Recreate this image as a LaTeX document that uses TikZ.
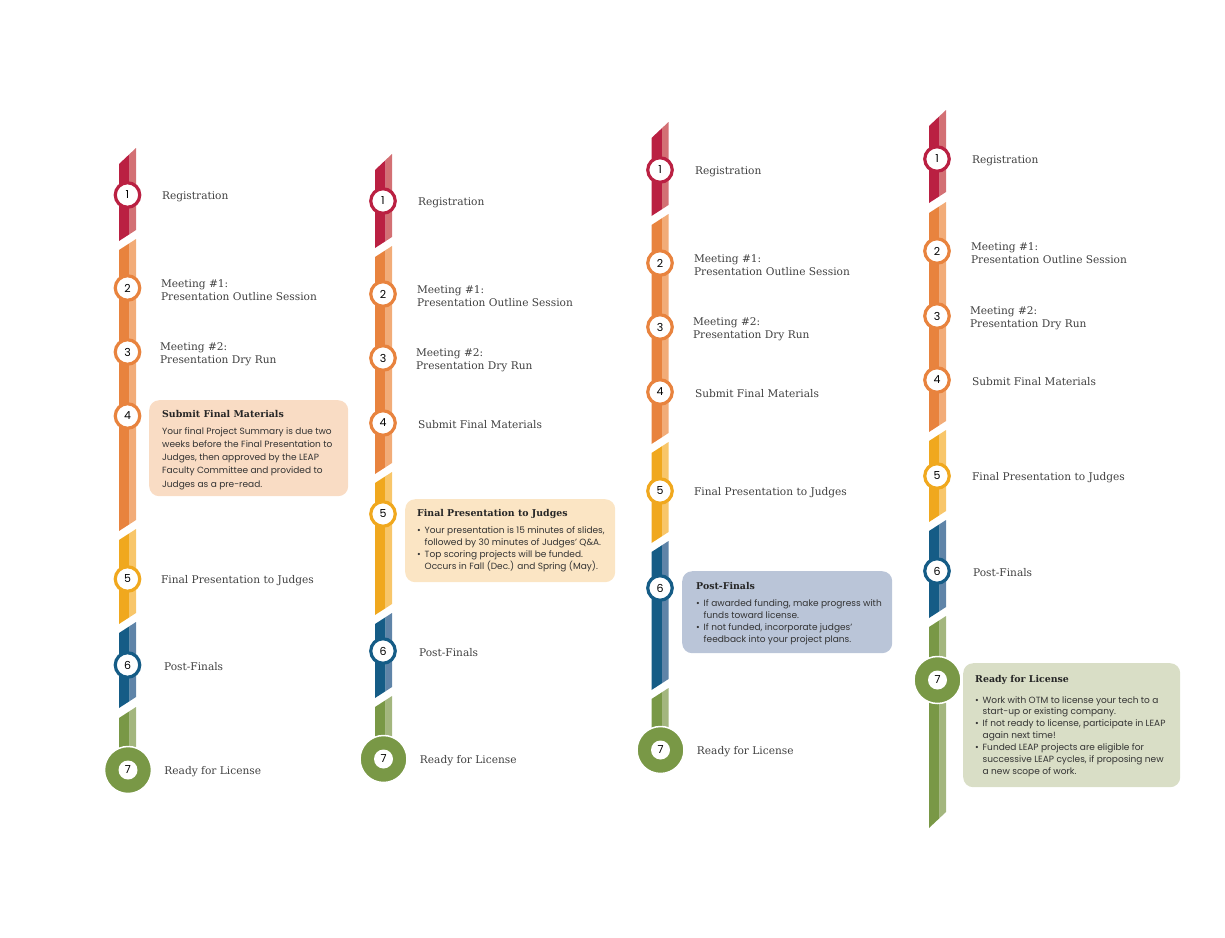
\documentclass[tikz,border=0pt]{standalone}
\usepackage{fontspec}
\usepackage{xcolor}
\usepackage{tikz}
\usetikzlibrary{positioning}
\newfontfamily\slab{DejaVu Serif}
\newfontfamily\bodyfont{Poppins}
\definecolor{stepred}{RGB}{186,32,66}
\definecolor{stepredlt}{RGB}{211,112,116}
\definecolor{steporange}{RGB}{232,131,62}
\definecolor{steporangelt}{RGB}{242,172,120}
\definecolor{stepyellow}{RGB}{240,168,30}
\definecolor{stepyellowlt}{RGB}{248,198,106}
\definecolor{stepblue}{RGB}{21,92,134}
\definecolor{stepbluelt}{RGB}{95,132,168}
\definecolor{stepgreen}{RGB}{121,152,70}
\definecolor{stepgreenlt}{RGB}{163,182,126}
\definecolor{noteorange}{RGB}{249,220,196}
\definecolor{noteyellow}{RGB}{251,229,196}
\definecolor{noteblue}{RGB}{186,197,216}
\definecolor{notegreen}{RGB}{217,222,198}
\definecolor{textgray}{RGB}{64,64,64}
% bar piece: centre x, left top y, left bottom y, top slant, bottom slant, colour
\newcommand{\barseg}[6]{%
  \fill[#6] (#1-8.5,#2) -- (#1+2,#2-#4*0.6176) -- (#1+2,#3-#5*0.6176) -- (#1-8.5,#3) -- cycle;
  \fill[#6lt] (#1+2,#2-#4*0.6176) -- (#1+8.5,#2-#4) -- (#1+8.5,#3-#5) -- (#1+2,#3-#5*0.6176) -- cycle;
}
\newcommand{\bul}{\makebox[7.5pt][l]{\textbullet}}
\newcommand{\ind}{\hspace*{7.5pt}}

\begin{document}
\begin{tikzpicture}[
			x=1pt, y=-1pt,
			stepdot/.style={circle, draw=#1, line width=3.2pt, fill=white, minimum size=24.5pt,
				inner sep=0pt, font=\bodyfont\fontsize{11}{11}\selectfont},
			bigdot/.style={circle, fill=stepgreen, draw=white, line width=1.5pt, minimum size=47pt,
				inner sep=0pt, font=\bodyfont\fontsize{11}{11}\selectfont,
				path picture={\fill[white] (path picture bounding box.center) circle (9.5pt);}},
			steptext/.style={anchor=west, inner sep=0pt, align=left, text=textgray, yshift=-2pt,
				font=\slab\fontsize{10.6}{13.5}\selectfont},
			notebox/.style={fill=#1, rounded corners=10pt, anchor=north west, inner sep=0pt},
			notetitle/.style={anchor=west, inner sep=0pt, text=black!85,
				font=\slab\bfseries\fontsize{9.4}{11}\selectfont},
			notebody/.style={anchor=north west, inner sep=0pt, align=left, text=black!80,
				font=\bodyfont\fontsize{9}{12.3}\selectfont}
			]
			\useasboundingbox (0,0) rectangle (1225,937);
			
			% Bars
			\barseg{127.5}{164}{241}{16}{11}{stepred}
			\barseg{127.5}{250}{531}{11}{11}{steporange}
			\barseg{127.5}{540}{624}{11}{11}{stepyellow}
			\barseg{127.5}{633}{708}{11}{11}{stepblue}
			\barseg{127.5}{718}{770}{11}{0}{stepgreen}
			
			\barseg{383.5}{170}{248}{16}{11}{stepred}
			\barseg{383.5}{257}{474}{11}{11}{steporange}
			\barseg{383.5}{483}{615}{11}{11}{stepyellow}
			\barseg{383.5}{624}{698}{11}{11}{stepblue}
			\barseg{383.5}{707}{759}{11}{0}{stepgreen}
			
			\barseg{660}{138}{216}{16}{11}{stepred}
			\barseg{660}{225}{444}{11}{11}{steporange}
			\barseg{660}{453}{543}{11}{11}{stepyellow}
			\barseg{660}{552}{690}{11}{11}{stepblue}
			\barseg{660}{699}{750}{11}{0}{stepgreen}
			
			\barseg{937.5}{126}{203}{16}{11}{stepred}
			\barseg{937.5}{213}{432}{11}{11}{steporange}
			\barseg{937.5}{441}{522}{11}{11}{stepyellow}
			\barseg{937.5}{531}{618}{11}{11}{stepblue}
			\barseg{937.5}{627}{828}{11}{16}{stepgreen}
			
			% Column 1
			\node[stepdot=stepred]    (a1) at (127.5,195) {1};
			\node[stepdot=steporange] (a2) at (127.5,288) {2};
			\node[stepdot=steporange] (a3) at (127.5,352) {3};
			\node[stepdot=steporange] (a4) at (127.5,416) {4};
			\node[stepdot=stepyellow] (a5) at (127.5,579) {5};
			\node[stepdot=stepblue]   (a6) at (127.5,665) {6};
			\node[bigdot]             (a7) at (128,770) {7};
			
			\node[steptext, right=20.5pt of a1] (a1t) {Registration};
			\node[steptext, right=19.5pt of a2] (a2t) {Meeting \#1:\\Presentation Outline Session};
			\node[steptext, right=18.5pt of a3] (a3t) {Meeting \#2:\\Presentation Dry Run};
			\node[steptext, right=19.5pt of a5] (a5t) {Final Presentation to Judges};
			\node[steptext, right=22.5pt of a6] (a6t) {Post-Finals};
			\node[steptext, right=12pt of a7]   (a7t) {Ready for License};
			
			\node[notebox=noteorange, minimum width=199pt, minimum height=96pt] (a4box) at (149,400) {};
			\node[notetitle] (a4head) at ([xshift=13pt,yshift=-14pt]a4box.north west) {Submit Final Materials};
			\node[notebody, font=\bodyfont\fontsize{9}{13.3}\selectfont] (a4body) at ([xshift=13pt,yshift=-27pt]a4box.north west)
			{Your final Project Summary is due two\\weeks before the Final Presentation to\\Judges, then approved by the LEAP\\Faculty Committee and provided to\\Judges as a pre-read.};
			
			% Column 2
			\node[stepdot=stepred]    (b1) at (383,201) {1};
			\node[stepdot=steporange] (b2) at (383,294) {2};
			\node[stepdot=steporange] (b3) at (383,358) {3};
			\node[stepdot=steporange] (b4) at (383,423) {4};
			\node[stepdot=stepyellow] (b5) at (383,514) {5};
			\node[stepdot=stepblue]   (b6) at (383,651) {6};
			\node[bigdot]             (b7) at (383.5,759) {7};
			
			\node[steptext, right=21pt of b1] (b1t) {Registration};
			\node[steptext, right=20pt of b2] (b2t) {Meeting \#1:\\Presentation Outline Session};
			\node[steptext, right=19pt of b3] (b3t) {Meeting \#2:\\Presentation Dry Run};
			\node[steptext, right=21pt of b4] (b4t) {Submit Final Materials};
			\node[steptext, right=22pt of b6] (b6t) {Post-Finals};
			\node[steptext, right=12pt of b7] (b7t) {Ready for License};
			
			\node[notebox=noteyellow, minimum width=210pt, minimum height=83pt] (b5box) at (405,499) {};
			\node[notetitle] (b5head) at ([xshift=12pt,yshift=-15pt]b5box.north west) {Final Presentation to Judges};
			\node[notebody] (b5body) at ([xshift=12pt,yshift=-27pt]b5box.north west)
			{\bul Your presentation is 15 minutes of slides,\\\ind followed by 30 minutes of Judges’ Q\&A.\\
				\bul Top scoring projects will be funded.\\\ind Occurs in Fall (Dec.) and Spring (May).};
			
			% Column 3
			\node[stepdot=stepred]    (c1) at (660,170) {1};
			\node[stepdot=steporange] (c2) at (660,263) {2};
			\node[stepdot=steporange] (c3) at (660,327) {3};
			\node[stepdot=steporange] (c4) at (660,392) {4};
			\node[stepdot=stepyellow] (c5) at (660,491) {5};
			\node[stepdot=stepblue]   (c6) at (660,588) {6};
			\node[bigdot]             (c7) at (660.5,750) {7};
			
			\node[steptext, right=21pt of c1] (c1t) {Registration};
			\node[steptext, right=20pt of c2] (c2t) {Meeting \#1:\\Presentation Outline Session};
			\node[steptext, right=19pt of c3] (c3t) {Meeting \#2:\\Presentation Dry Run};
			\node[steptext, right=21pt of c4] (c4t) {Submit Final Materials};
			\node[steptext, right=20pt of c5] (c5t) {Final Presentation to Judges};
			\node[steptext, right=12pt of c7] (c7t) {Ready for License};
			
			\node[notebox=noteblue, minimum width=210pt, minimum height=82pt] (c6box) at (682,571) {};
			\node[notetitle] (c6head) at ([xshift=14pt,yshift=-15pt]c6box.north west) {Post-Finals};
			\node[notebody] (c6body) at ([xshift=14pt,yshift=-28pt]c6box.north west)
			{\bul If awarded funding, make progress with\\\ind funds toward license.\\
				\bul If not funded, incorporate judges’\\\ind feedback into your project plans.};
			
			% Column 4
			\node[stepdot=stepred]    (d1) at (937,159) {1};
			\node[stepdot=steporange] (d2) at (937,251) {2};
			\node[stepdot=steporange] (d3) at (937,316) {3};
			\node[stepdot=steporange] (d4) at (937,380) {4};
			\node[stepdot=stepyellow] (d5) at (937,476) {5};
			\node[stepdot=stepblue]   (d6) at (937,571) {6};
			\node[bigdot]             (d7) at (937.5,680) {7};
			
			\node[steptext, right=21pt of d1] (d1t) {Registration};
			\node[steptext, right=20pt of d2] (d2t) {Meeting \#1:\\Presentation Outline Session};
			\node[steptext, right=19pt of d3] (d3t) {Meeting \#2:\\Presentation Dry Run};
			\node[steptext, right=21pt of d4] (d4t) {Submit Final Materials};
			\node[steptext, right=21pt of d5] (d5t) {Final Presentation to Judges};
			\node[steptext, right=22pt of d6] (d6t) {Post-Finals};
			
			\node[notebox=notegreen, minimum width=217pt, minimum height=124pt] (d7box) at (963,663) {};
			\node[notetitle] (d7head) at ([xshift=12pt,yshift=-17pt]d7box.north west) {Ready for License};
			\node[notebody, font=\bodyfont\fontsize{9}{11.9}\selectfont] (d7body) at ([xshift=12pt,yshift=-33pt]d7box.north west)
			{\bul Work with OTM to license your tech to a\\\ind start-up or existing company.\\
				\bul If not ready to license, participate in LEAP\\\ind again next time!\\
				\bul Funded LEAP projects are eligible for\\\ind successive LEAP cycles, if proposing new\\\ind a new scope of work.};
			
		\end{tikzpicture}
\end{document}
